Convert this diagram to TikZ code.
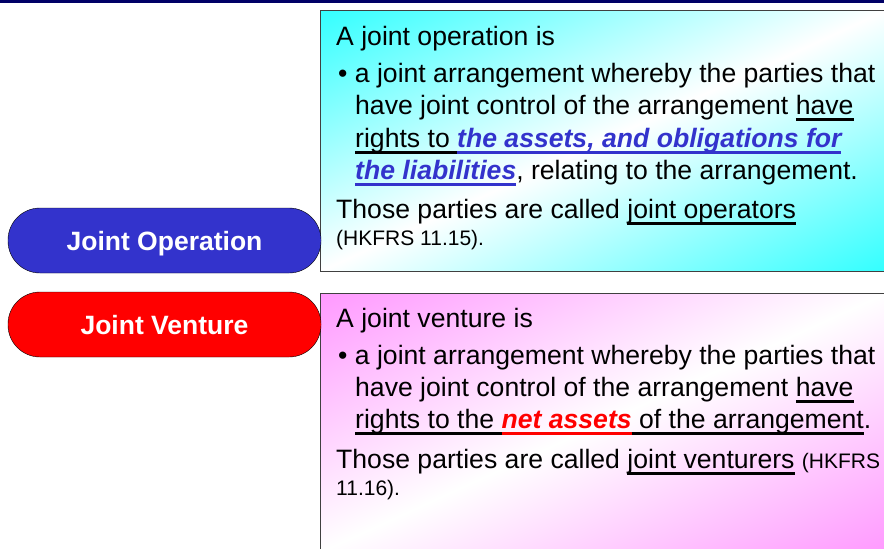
\documentclass[tikz,border=0pt]{standalone}
\usepackage{fontspec}
\setmainfont{Liberation Sans}

\newcommand{\uln}[1]{\setbox0\hbox{#1}\rlap{\rule[-6.5pt]{\wd0}{2.1pt}}\box0\relax}

\definecolor{navybar}{HTML}{000066}
\definecolor{opblue}{HTML}{3333CC}

% white along the box's rising diagonal, coloured towards the top left and bottom right corners
\pgfdeclarefunctionalshading{opshade}{\pgfpointorigin}{\pgfpoint{100bp}{100bp}}{}{
  75 exch sub 50 div exch 25 sub 50 div add 1 sub abs
  0.8 mul 1 exch sub 1 1
}
\pgfdeclarefunctionalshading{jvshade}{\pgfpointorigin}{\pgfpoint{100bp}{100bp}}{}{
  75 exch sub 50 div exch 25 sub 50 div add 1 sub abs
  0.4 mul 1 exch sub 1 exch 1
}

\tikzset{
  pill/.style={draw=black, thin, rounded corners=32pt, minimum width=313pt, minimum height=65pt,
    inner sep=0pt, text=white, text height=19pt, text depth=0pt,
    font=\fontsize{26.5}{32}\selectfont\bfseries},
  line/.style={anchor=base west, inner sep=0pt, font=\fontsize{26.6}{32}\selectfont},
  note/.style={anchor=base west, inner sep=0pt, font=\fontsize{21}{24}\selectfont}
}

\begin{document}
\begin{tikzpicture}[x=1pt,y=-1pt]
\useasboundingbox (0,0) rectangle (884,549);
\fill[navybar] (0,0) rectangle (884,3);

% the two boxes
\shade[shading=opshade] (320.5,10) rectangle (886,271);
\draw[black!75] (886,10) -- (320.5,10) -- (320.5,271) -- (886,271);
\shade[shading=jvshade] (320.5,293) rectangle (886,552);
\draw[black!75] (886,293) -- (320.5,293) -- (320.5,552);

\node[pill, fill=opblue] (jointOp) at (164.5,240.5) {Joint Operation};
\node[pill, fill=red] (jointVen) at (164.5,324.5) {Joint Venture};

% joint operation
\node[line] (opHead) at (336,45) {A joint operation is};
\node[line] (opL1) at (338,82) {\textbullet\ a joint arrangement whereby the parties that};
\node[line] (opL2) at (355,114) {have joint control of the arrangement \uln{have}};
\node[line] (opL3) at (355,147) {\uln{rights to }{\color{opblue}\uln{\bfseries\itshape the assets, and obligations for}}};
\node[line] (opL4) at (355,179) {{\color{opblue}\uln{\bfseries\itshape the liabilities}}, relating to the arrangement.};
\node[line] (opL5) at (336,218) {Those parties are called \uln{joint operators}};
\node[note] (opRef) at (336,245) {(HKFRS 11.15).};

% joint venture
\node[line] (jvHead) at (336,327) {A joint venture is};
\node[line] (jvL1) at (338,364) {\textbullet\ a joint arrangement whereby the parties that};
\node[line] (jvL2) at (355,396) {have joint control of the arrangement \uln{have}};
\node[line] (jvL3) at (355,428) {\uln{rights to the }{\color{red}\uln{\bfseries\itshape net assets}}\uln{ of the arrangement}.};
\node[line] (jvL4) at (336,468) {Those parties are called \uln{joint venturers} {\fontsize{21}{24}\selectfont(HKFRS}};
\node[note] (jvRef) at (336,495) {11.16).};
\end{tikzpicture}
\end{document}
